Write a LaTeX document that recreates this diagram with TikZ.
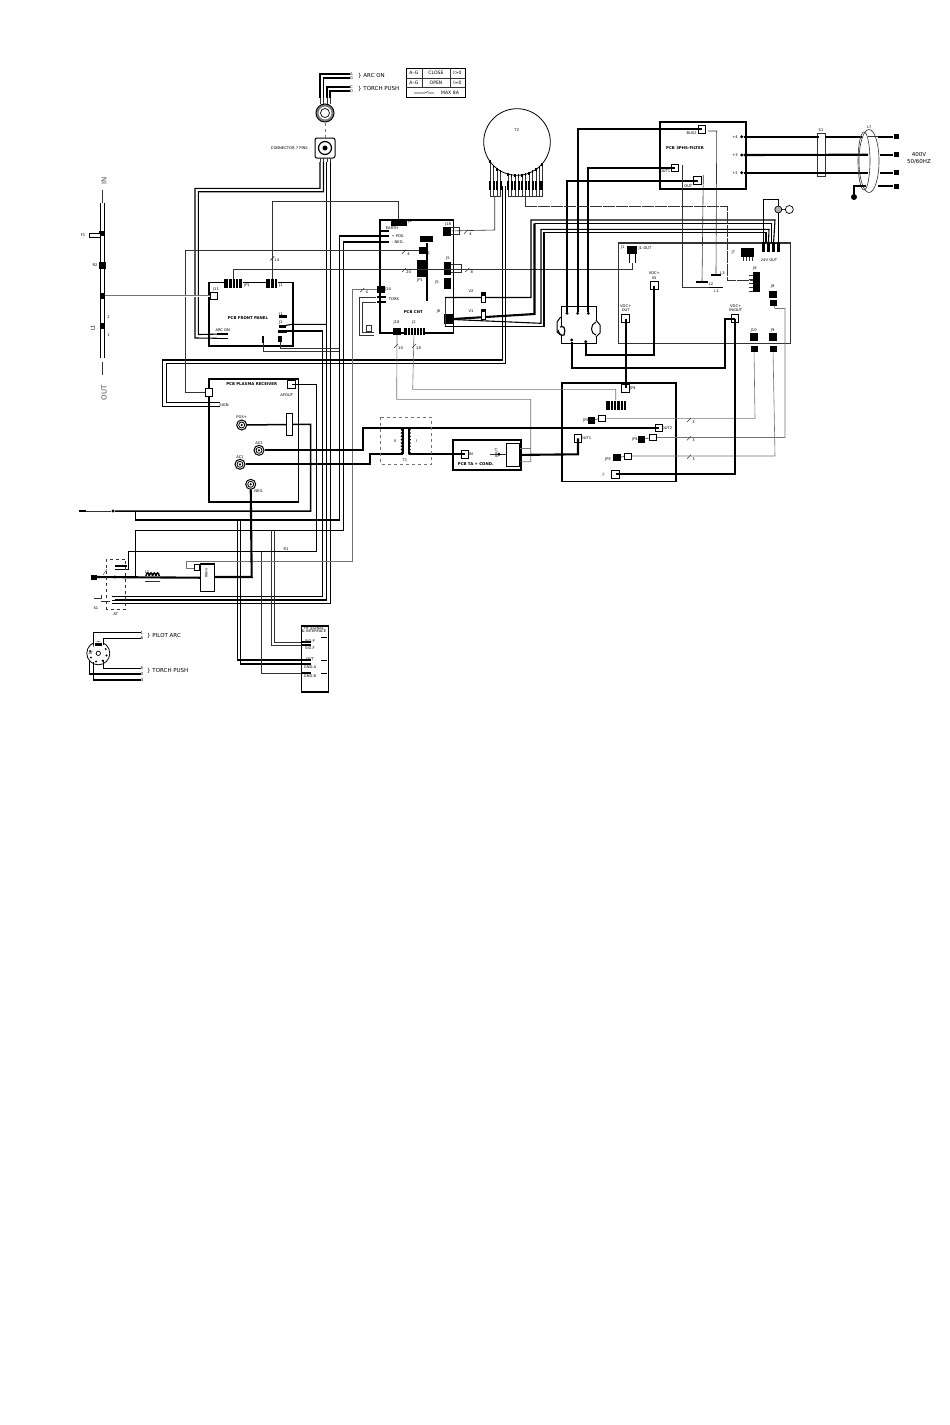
\documentclass[tikz,border=0pt]{standalone}
\usepackage{fontspec}
\setmainfont{DejaVu Sans}

\begin{document}
\begin{tikzpicture}[x=1pt,y=-1pt,
    hvy/.style={line width=2.1pt},
    mhv/.style={line width=1.5pt},
    med/.style={line width=1.1pt},
    thn/.style={line width=.6pt,black!80},
    gry/.style={line width=.6pt,black!55},
    pcb/.style={draw,line width=1.7pt,anchor=north west,inner sep=0pt},
    term/.style={draw,fill=white,line width=1pt,minimum size=7.5pt,inner sep=0pt,
      path picture={\fill (path picture bounding box.center) circle (2.2pt);}},
    ringt/.style={circle,draw,line width=1pt,minimum size=10pt,inner sep=0pt,
      path picture={\draw[line width=.8pt] (path picture bounding box.center) circle (3pt);
        \fill (path picture bounding box.center) circle (1.2pt);}},
    blk/.style={fill=black,inner sep=0pt},
    hdr/.style={draw,fill=white,line width=.8pt,minimum width=7pt,minimum height=6pt,inner sep=0pt},
    dotp/.style={circle,fill=black,minimum size=3.2pt,inner sep=0pt},
    lbl/.style={font=\fontsize{3.7}{4.3}\selectfont,inner sep=0pt,align=center},
    ttl/.style={font=\fontsize{3.9}{4.5}\selectfont\bfseries,inner sep=0pt},
    big/.style={font=\fontsize{5.5}{6.6}\selectfont,inner sep=0pt,align=center}]

  \useasboundingbox (0,0) rectangle (950,1425);

  \foreach \n/\x/\y/\w/\h in {front/208.3/281.7/84/63.3,cnt/379.3/219/73.4/113.3,
      plasma/208.3/378.3/89.4/122.7,lower/561/382.3/114/98.4,smps/659/121.3/86/66.7,
      ta/452.3/439.3/68/30,iface/300.7/625/27/66} {
    \node[pcb,minimum width=\w pt,minimum height=\h pt] (\n) at (\x,\y) {};
  }
  \node[pcb,line width=1.2pt,black!80,minimum width=172pt,minimum height=100.4pt] (main) at (617.7,242.3) {};
  \node[draw,line width=.8pt,anchor=north west,inner sep=0pt,minimum width=13pt,minimum height=23pt] (tain2) at (506,443) {};

  \foreach \n/\x/\y in {apout/291.7/384.3,jpla/209/392.7,tain/465/454.3,out1l/578/438.3,out2l/659/428,
      jp4/625.7/388.3,jm/615.7/474.3,bus/702/129.3,out1s/675/168,outs/697.7/180.7,
      vdcin/654.3/285.7,vdcout/625.7/318.7,vdcio/735/318.7,fsq/214/296} {
    \node[term] (\n) at (\x,\y) {};
  }
  \foreach \n/\x/\y in {pos/241.7/425,ac2/259/450.3,ac1/240/464.3,neg/250.7/484.3} {
    \node[ringt] (\n) at (\x,\y) {};
  }
  \foreach \n/\x/\y in {bra/567/313.3,brb/577.7/313.3,brc/588.3/313.3,brm/571.7/340,brt/585.7/341.7,
      gnd/113/511,wa/741.7/136.7,wb/741.7/155,wc/741.7/172.7,trm/115/577} {
    \node[dotp] (\n) at (\x,\y) {};
  }
  \foreach \n/\x/\y/\w/\h in {cp/398.5/222.5/16/7,fj1/272.3/283.5/12/9,fjp/233.3/283.5/18/9,
      cj18/447.3/231/8/9,cj5/447.3/268.3/7/13,cj6/447.3/283.3/7/11,cjp1/421.7/268/9/17,
      cj4/422.7/250/8/7,cjx/426.7/239/13/6,cj14/380.7/289.3/8/7,cj8/448.3/319.3/9/10,
      cj10/397/331/8/7,cj2/414/331/21/7,jp2/591.3/420/7/7,jp4c/641.7/439/7/7,jp3/617/457.7/8/7,
      pins8/615.7/405/20/9,jout/632.3/250/10/8,j8/756/281.7/7/20,jj8/772.7/294/8/7,
      j10/753.7/337.3/8/8,j9/772.7/337.3/8/8,j10b/754/349/7/6,j9b/773/349/7/6,jj8b/773/303/7/6,
      ja/763.3/247/3.5/10,jb/768.3/247/3.5/10,jc/773.3/247/3.5/10,jd/778.3/247/3.5/10,
      jw/747/252/13/9,l1/716/287.3/14/1.6,l2/702/282/12/1.6,l3/716/275/10/1.6,
      tork/381/297/9/2,torkb/381/302/9/2,brh/385/231/8/2,brp/385/236/8/2,brn/385/242/8/2,
      cjbar/426.7/272/1.8/58,
      arca/222.5/334/11/1.2,arcb/222.5/338.3/11/1.2,fja/283/316/8/3,fjb/282/326/7/3,fjc/282/331/9/3,
      fjd/263.3/339/1.8/7,fje/280/339/4/6,
      sgna/216/402.3/8/1.5,sgnb/216/406.7/8/1.5,coil/402.7/441/2/26,coilb/408.8/441/2/26,
      atb/121/569.3/12/1.5,atc/121/566/12/1.5,hfa/306/642/9/1.3,hfb/306/645/9/1.3,
      hfc/306/660/9/1.3,hfd/306/664/9/1.3,hfe/306/673/9/1.3,sdb/324/637/6/1,sdc/324/660/6/1,sdd/324/673/6/1,
      sj1/101.5/233/5/5,sj2/102/265.7/7/7,sj3/102/296/3/6,sl1/102/326/4/6} {
    \node[blk,minimum width=\w pt,minimum height=\h pt] (\n) at (\x,\y) {};
  }
  \foreach \n/\x/\y in {hjp2/602.3/418.3,hjp4/653.3/437.5,hjp3/628/456} {
    \node[hdr] (\n) at (\x,\y) {};
  }
  \foreach \xa/\dx/\m/\y/\h in {225/3.4/5/283.5/4.5,267/3.4/3/283.5/4.5,404/3/6/331/3.5,606.5/3.4/6/405/4.5} {
    \foreach \i in {1,...,\m} {
      \draw[white,line width=.5pt] ({\xa+\i*\dx},\y-\h) -- ({\xa+\i*\dx},\y+\h);
    }
  }
  \foreach \y in {275,279,283,287,291} {
    \draw[thn] (748.5,\y) -- (752.5,\y);
  }
  \foreach \x in {743,746,749,752} {
    \draw[thn] (\x,256.5) -- (\x,261);
  }

  \node[circle,draw,line width=1pt,minimum size=18pt,inner sep=0pt,
    path picture={\draw[line width=2pt,black!50] (path picture bounding box.center) circle (7.5pt);
      \draw[line width=.7pt] (path picture bounding box.center) circle (4.5pt);}] (plug) at (325,113) {};
  \node[draw,line width=1pt,rounded corners=2pt,minimum size=20pt,inner sep=0pt,
    path picture={\draw[line width=1.2pt] (path picture bounding box.center) circle (6.5pt);
      \fill (path picture bounding box.center) circle (2.5pt);}] (sock) at (325,148) {};
  \draw[gry,dashed] (plug) -- (sock);

  \foreach \x/\y/\n/\t in {320/74/pA/A,323.5/78/pG/G,327/87/pC/C,330/91/pD/D} {
    \node[lbl] (\n) at (351.5,\y) {\t};
    \draw[med] (\x,98) |- (\n.west);
    \draw[thn] (\x,98) -- (\x,104);
  }
  \foreach \x in {320,323.5,327,330} {
    \draw[thn] (\x,158) -- (\x,162);
  }
  \node[big,anchor=west] (arcon) at (358,76) {\} ARC ON};
  \node[big,anchor=west] (torchp) at (358,89) {\} TORCH PUSH};
  \node[lbl,anchor=east] (conn7) at (308,148) {CONNECTOR 7 PINS};

  \node[draw,line width=.8pt,anchor=north west,inner sep=0pt,minimum width=59.6pt,minimum height=29pt] (tab) at (405.7,68.3) {};
  \draw[thn] (405.7,78) -- (465.3,78) (405.7,87.7) -- (465.3,87.7) (422,68.3) -- (422,87.7) (450,68.3) -- (450,87.7);
  \foreach \x/\y/\t/\n in {414/73.3/{A--G}/ta1,436/73.3/{CLOSE}/ta2,457.5/73.3/{I>0}/ta3,
      414/83/{A--G}/tb1,436/83/{OPEN}/tb2,457.5/83/{I=0}/tb3,450/92.5/{MAX 8A}/tc1} {
    \node[font=\fontsize{4.6}{5}\selectfont,inner sep=0pt] (\n) at (\x,\y) {\t};
  }
  \draw[thn] (414,93) -- (425,93) -- (428,91.5) (428,93) -- (434,93);

  \draw[med] (320,162) -- (320,188.3) -- (195,188.3) -- (195,338) -- (arcb);
  \draw[med] (323.5,162) -- (323.5,191.7) -- (198.3,191.7) -- (198.3,334.5) -- (arca);
  \draw[med] (326.7,162) -- (326.7,600) -- (115,600);
  \draw[med] (330.3,162) -- (330.3,603.3) -- (115,603.3);
  \draw[med] (fjb) -- (292,324.3) -- (326.7,324.3);
  \draw[med] (fjc) -- (322.7,331) -- (322.7,596.7) -- (115,596.7);
  \draw[thn] (fjd) -- (263.3,351.7) -- (339.3,351.7);
  \draw[thn] (fje) -- (280,348) -- (339.3,348);

  \draw[med] (brp) -- (339.3,236) -- (339.3,520) -- (135.7,520) -- (135.7,511);
  \draw[med] (brn) -- (343.3,242) -- (343.3,530.3) -- (135.7,530.3) -- (135.7,577);
  \draw[med] (237.7,520) -- (237.7,660) -- (hfc);
  \draw[med] (240.3,520) -- (240.3,664) -- (hfd);
  \draw[thn] (271.3,530.3) -- (271.3,645) -- (hfb);
  \draw[thn] (274,530.3) -- (274,642) -- (hfa);
  \draw[thn] (261,551.7) -- (261,673) -- (hfe);

  \draw[med] (jout.south) ++(-3,0) -- ++(0,9) (jout.south) ++(3,0) -- ++(0,9);
  \draw[med] (502.3,186) -- (502.3,360) -- (162.7,360) -- (162.7,406.7) -- (sgnb);
  \draw[med] (505.7,186) -- (505.7,363.5) -- (166.7,363.5) -- (166.7,402.3) -- (sgna);

  \draw[thn] (fj1) -- (272.3,201.7) -| (cp);
  \draw[thn] (fjp) -- (233.3,269.5) -- (632.3,269.5) -- (632.3,263);
  \draw[thn] (jpla) -- (185.7,392.7) -- (185.7,250) -- (cj4);
  \draw[gry,double,double distance=.9pt] (sj3) -- (fsq);
  \draw[gry] (cj14) -- (352.5,289.3) -- (352.5,561.7) -- (186.7,561.7) -- (186.7,568) -- (197,568);
  \draw[gry] (cj10) -- (396.7,399.3) -- (530.7,399.3) -- (530.7,461.7) -- (520.3,461.7);
  \draw[gry] (530.7,448.3) -- (520.3,448.3);
  \draw[gry] (cj2) -- (412.7,389.3) -- (615.7,389.3) -- (pins8);
  \draw[thn] (cj18) -- (494.7,230) -- (494.7,197);
  \draw[thn] (451,227.5) -- (459,227.5) -- (459,234.5) -- (451,234.5);
  \draw[thn] (451,264.5) -- (461,264.5) -- (461,272.5) -- (451,272.5);

  \draw[gry] (hjp2) -- (755,418.3) -- (j10b);
  \draw[gry] (hjp4) -- (785,437.5) -- (785,308.5) -- (775,308.5) -- (jj8b);
  \draw[gry] (hjp3) -- (775,456) -- (j9b);
  \draw[thn] (jp2) -- (hjp2) (jp4c) -- (hjp4) (jp3) -- (hjp3);

  \draw[thn] (tork) -- (359.3,297) -- (359.3,335) -- (374.3,335);
  \draw[thn] (torkb) -- (362.7,302) -- (362.7,332) -- (374.3,332);
  \draw[thn,fill=white] (366,325) rectangle (371,331);

  \draw[thn] (445,297.5) -- (445,326.7);
  \draw[med] (445,297.5) -- (531,297.5) -- (531,220) -- (775,220) -- (jc);
  \draw[hvy] (cj8) -- (534.5,314) -- (534.5,223.3);
  \draw[med] (534.5,223.3) -- (771.7,223.3) -- (771.7,243);
  \draw[med] (cj8) -- (541,323.3) -- (541,229.3) -- (769,229.3) -- (jb);
  \draw[med] (445,326.7) -- (544,326.7) -- (544,232.7) -- (766,232.7) -- (766,243);
  \draw[med] (ja) -- (763.3,199.3) -- (778.3,199.3) -- (jd);
  \node[circle,draw,line width=.7pt,fill=black!30,minimum size=7pt,inner sep=0pt] (fana) at (778.3,209.5) {};
  \node[circle,draw,line width=.7pt,fill=white,minimum size=8pt,inner sep=0pt] (fanb) at (789.3,209.5) {};
  \draw[thn] (fana) -- (fanb);

  \foreach \x/\y/\n in {483.3/297.5/v2,483.3/314/v1} {
    \draw[draw,fill=white,line width=.7pt] (\x-2,\y-5) rectangle (\x+2,\y+5);
    \fill (\x-2,\y-5) rectangle (\x+2,\y-2);
  }

  \draw[hvy] (bus.center) -| (brb);
  \draw[hvy] (out1s.center) -| (brc);
  \draw[hvy] (outs.center) -| (bra);
  \draw[hvy] (vdcin.center) -- (654.3,355) -| (brt);
  \draw[hvy] (vdcio.center) -- (725,318.7) -- (725,368.3) -| (brm);
  \draw[hvy] (vdcout.center) -- (jp4.center);
  \draw[hvy] (vdcio.center) -- (735,474.3) -- (jm.center);

  \draw[thn] (703.3,175) -- (l2);
  \draw[thn] (708,131) -- (716.7,131) -- (l3);
  \draw[thn] (682.3,165) -- (682.3,287.3) -- (l1);
  \draw[thn] (525,186) -- (525,206.7);
  \draw[thn,dash pattern=on 12pt off 1pt] (525,206.7) -- (727.3,206.7) -- (727.3,280.7) -- (752.5,280.7);

  \draw[hvy] (ac2) -- (363.3,450.3) -- (363.3,428) -- (out2l.center);
  \draw[hvy] (ac1) -- (370,464.3) -- (370,454.3) -- (403,454.3);
  \draw[hvy] (408.5,454.3) -- (tain.center);
  \draw[hvy] (tain2.east) -- (578,454.3) -- (out1l.center);
  \draw[mhv] (pos) -- (310.7,424.3) -- (310.7,511) -- (gnd);
  \node[draw,line width=.8pt,fill=white,minimum width=6pt,minimum height=22pt,inner sep=0pt] (fuse) at (289.3,424.5) {};
  \draw[thn] (gnd) -- (80,511);
  \node[blk,minimum width=7pt,minimum height=2.5pt] (gndt) at (82,511) {};
  \draw[mhv] (apout.center) -- (316.7,384.3) -- (316.7,551.7) -- (128.3,551.7) -- (128.3,569.3) -- (atb);
  \node[draw,line width=1.3pt,fill=white,anchor=north west,minimum width=13.5pt,minimum height=27.5pt,inner sep=0pt] (rblock) at (200,563.3) {};
  \node[font=\fontsize{3.3}{4}\selectfont,inner sep=0pt,rotate=90] (rtext) at (206.5,573) {RRHV};
  \draw[hvy] (94,577) -- (rblock.west);
  \draw[hvy] (rblock.east |- 0,577) -- (251.7,577) -- (neg);
  \node[blk,minimum width=6pt,minimum height=5pt] (torchhd) at (94,577) {};
  \draw[draw,line width=.8pt,fill=white] (194,564.5) rectangle (199,570);
  \draw[gry] (107,569) -- (103,575);

  \foreach \i in {0,...,3} {
    \draw[mhv,fill=white] ({146+\i*3.3},576) .. controls ({146.5+\i*3.3},572) and ({148.8+\i*3.3},572) .. ({149.3+\i*3.3},576);
  }
  \draw[thn] (145,581) -- (159.5,581);

  \draw[gry,dashed] (380.7,417.3) rectangle (431.7,464);
  \foreach \i in {0,...,7} {
    \draw[line width=.8pt] (403,{428+\i*3.3}) .. controls (400.5,{428.5+\i*3.3}) and (400.5,{431+\i*3.3}) .. (403,{431.3+\i*3.3});
    \draw[line width=.8pt] (408.5,{428+\i*3.3}) .. controls (411,{428.5+\i*3.3}) and (411,{431+\i*3.3}) .. (408.5,{431.3+\i*3.3});
  }

  \draw[line width=.8pt] (517,142) circle (33.3);
  \foreach[evaluate={142+sqrt(33.3*33.3-(\x-517)*(\x-517))} as \ya] \x in {490,493.5,497,500.5,508,511.5,515,518.5,522,525.5,529,532.5,536,539.5,542} {
    \draw[thn] (\x,\ya) -- (\x,196.7);
    \fill (\x-1,181) rectangle (\x+1,190);
    \fill (\x-.8,\ya-1) rectangle (\x+.8,\ya+2);
  }
  \draw[thn] (490,196.7) -- (500.5,196.7) (508,196.7) -- (542,196.7);

  \node[draw,line width=1pt,anchor=north west,minimum width=35.3pt,minimum height=36.7pt,inner sep=0pt] (bridge) at (560.7,306) {};
  \draw[line width=1pt,fill=white] (560.7,317) -- (557,322) -- (557,332) -- (560.7,335);
  \draw[line width=1.2pt,fill=white] (560,327) .. controls (564,325) and (566,329) .. (564,335) .. controls (561,336) and (559,334) .. (558,330);
  \draw[line width=1pt,fill=white] (596,320) -- (600,325) -- (600,333) -- (596,337);
  \draw[line width=1pt,fill=white] (596,322) .. controls (590,324) and (590,334) .. (596,335);

  \draw[hvy] (wa) -- (862,136.7);
  \draw[hvy] (wb) -- (868,154.7);
  \draw[hvy] (wc) -- (868,172.7);
  \foreach \y/\n/\xa in {136.7/sqa/878,154.7/sqb/880,172.7/sqc/880,186/sqd/878} {
    \node[blk,minimum width=5pt,minimum height=5pt] (\n) at (896,\y) {};
    \draw[hvy] (\xa,\y) -- (\n);
  }
  \draw[thn,fill=white] (817.7,133.3) rectangle (825.7,176.7);
  \draw[hvy] (825,136.7) -- (862,136.7) (810,136.7) -- (819,136.7);
  \draw[hvy] (810,154.7) -- (868,154.7) (810,172.7) -- (868,172.7);
  \draw[thn] (869,161) ellipse [x radius=10,y radius=31.5];
  \draw[thn] (864,161) ellipse [x radius=6,y radius=29];
  \draw[thn] (868,136.7) -- (878,136.7);
  \draw[mhv] (866,186) -- (854,186) -- (854,196);
  \node[dotp,minimum size=6pt] (earth) at (854,197) {};

  \foreach[count=\i] \x/\y/\t in {405/251.7/4,405/270/20,273.3/258.3/14,467/231.7/4,468.3/270/8,363.3/290/4,
      397/346/10,415/346/18,690/420/3,690/438.3/3,690/456.7/3} {
    \draw[thn] (\x-3,\y+2) -- (\x+1,\y-2);
    \node[lbl] (sl\i) at (\x+3.5,\y+2) {\t};
  }

  \draw[med] (100.7,203.3) -- (100.7,358.3) (104.3,203.3) -- (104.3,358.3);
  \draw[thn] (102,190) -- (102,203.3) (102,362) -- (102,375);
  \draw[fill=white,line width=.7pt] (89,233) rectangle (100,237);
  \node[font=\fontsize{7}{8}\selectfont,black!70,rotate=90,inner sep=0pt] (nin) at (104,181) {IN};
  \node[font=\fontsize{7}{8}\selectfont,black!70,rotate=90,inner sep=0pt] (nout) at (104,392.7) {OUT};

  \draw[thn] (94,598) -- (101,598) -- (101,595) (101,601) -- (110,601);
  \foreach \y in {596.7,600,603.3} {
    \draw[line width=.8pt] (112,\y) -- (115,\y);
  }
  \draw[thn,dashed] (106.7,559.3) rectangle (125.7,609.3);

  \node[circle,draw,line width=.8pt,minimum size=23pt,inner sep=0pt,
    path picture={\draw[line width=.7pt] (path picture bounding box.center) circle (2.2pt);}] (atc2) at (98.3,653.3) {};
  \foreach[count=\i] \a in {15,60,105,150,195,240,285,330} {
    \fill (98.3,653.3) ++(\a:8.5) circle (1.1);
  }
  \node[blk,draw=white,minimum width=8pt,minimum height=4pt] (atp) at (98.5,644.5) {};
  \foreach \y/\n/\t in {632.7/at1/1,638.3/at6/6,668.3/at5/5,674/at3/3,680/at4/4} {
    \node[lbl,font=\fontsize{4}{5}\selectfont] (\n) at (142,\y) {\t};
  }
  \draw[med] (93.5,645) -- (93.5,632.7) -- (at1);
  \draw[med] (103.5,645) -- (103.5,638.3) -- (at6);
  \draw[med] (103.5,660) -- (103.5,668.3) -- (at5);
  \draw[med] (89.5,660) -- (89.5,674) -- (at3);
  \draw[med] (93.5,662) -- (93.5,680) -- (at4);
  \node[big,anchor=west] (pilota) at (147,635.7) {\} PILOT ARC};
  \node[big,anchor=west] (torchb) at (147,671) {\} TORCH PUSH};

  \foreach[count=\i] \x/\y/\t in {248/318/{PCB FRONT PANEL},251.7/384/{PCB PLASMA RECEIVER},413.3/311.7/{PCB CNT},
      475.7/464.3/{PCB TA + COND.},685/148/{PCB 3PHS-FILTER}} {
    \node[ttl] (pc\i) at (\x,\y) {\t};
  }
  \foreach[count=\i] \x/\y/\t in {286.7/394.7/{APOUT},392/228.5/{EARTH},
      398/236/{+ POS.},398/242/{- NEG.},394/299/{TORK},241.7/417/{POS+},259/443.5/{AC2},240/457/{AC1},
      259/491.5/{NEG.},224/405/{SIGN},247/286/{JP1},281/286/{J1},216/290/{J11},222.7/330.3/{ARC ON},
      281/315/{J1},281/322/{J2},420/280.5/{JP1},
      428/253/{J6},437/283/{J5},448/224/{J18},448/259/{J5},438.5/311.5/{J8},396.5/322/{J18},414/322/{J2},
      388/289.5/{J14},410/222/{J4},471/291/{V2},471/311/{V1},471/454.5/{IN},691.7/133.3/{BUS2},
      665/171/{OUT1},688.3/186/{OUT},735/136.7/{+4},735/155/{+3},735/172.7/{+2},821/130/{S1},869.3/127.3/{L7},
      654.3/275.5/{VDC+\\IN},625.7/308.3/{VDC+\\OUT},735.7/308.3/{VDC+\\IN/OUT},645/248.7/{J1-OUT},622.7/247.7/{J1},
      755/268.5/{J8},772.7/286.7/{J8},753.7/330/{J10},772.7/330/{J9},733.3/252.7/{J7},716.7/291/{L1},
      711/284.5/{L2},722.5/272.7/{L3},769/260/{24V OUT},586/420.5/{JP2},635/440/{JP4},608/459/{JP3},
      604/475/{J--},633/388.3/{JP4},586/438.3/{OUT1},667/428/{OUT2},405/460/{T1},395/441/{II},417/441/{I},
      517/130/{T2},147/572/{L1},115.7/614.3/{AT},91/653/{AT},83/235/{F1},95/265.5/{R2},96/608/{S1},
      286/549/{R1},108.5/317/{2},108.5/335/{1},314/628.5/{HF SIGNAL},314/631.5/{\& INTERFACE},
      310/641/{SIG.P},310/648/{SIG.F},310/659/{OUT},310/667/{GND.A},310/676/{GND.B}} {
    \node[lbl] (tx\i) at (\x,\y) {\t};
  }
  \node[font=\fontsize{3.6}{4}\selectfont,rotate=90,inner sep=0pt] (jouttx) at (496.7,453) {JOUT};
  \node[font=\fontsize{5}{5}\selectfont,inner sep=0pt,rotate=90] (l1tx) at (92.7,328) {L1};
  \node[big,anchor=center] (v400) at (919,158) {400V\\50/60HZ};
  \draw[thn] (490,454.3) -- (506,454.3);
  \node[dotp] (dio) at (499,454.3) {};
\end{tikzpicture}
\end{document}
